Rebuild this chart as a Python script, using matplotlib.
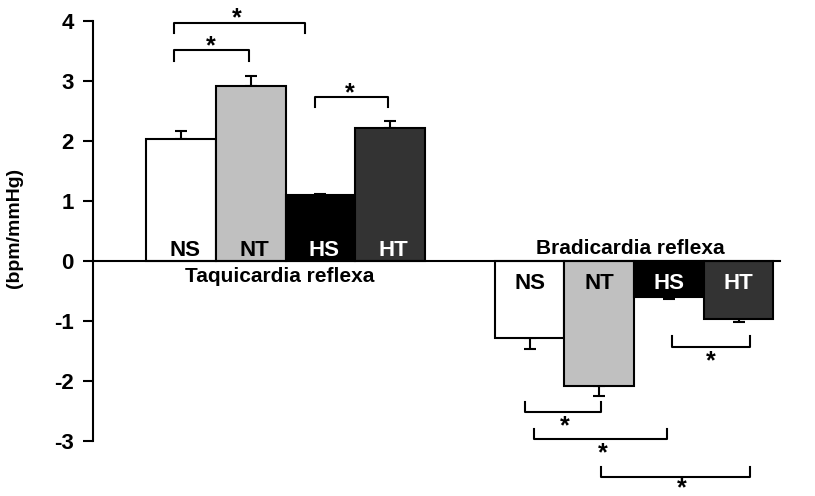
import matplotlib.pyplot as plt
import numpy as np

plt.rcParams['font.family'] = ['Liberation Sans', 'DejaVu Sans']
plt.rcParams['font.weight'] = 'bold'
plt.rcParams['axes.unicode_minus'] = False

conditions = ['NS', 'NT', 'HS', 'HT']
groups = ['Taquicardia reflexa', 'Bradicardia reflexa']
taqui = [2.04, 2.92, 1.10, 2.21]
taqui_err = [0.12, 0.16, 0.02, 0.13]
bradi = [-1.29, -2.09, -0.60, -0.97]
bradi_err = [0.18, 0.17, 0.03, 0.05]

# significance brackets: (x start, x end, y of bar, y of legs, star x, star y)
brackets = [
    (-0.10, 0.98, 3.52, 3.33, 0.42, 3.58),
    (-0.10, 1.78, 3.97, 3.80, 0.80, 4.05),
    (1.92, 2.97, 2.73, 2.57, 2.42, 2.80),
    (7.05, 8.16, -1.43, -1.25, 7.60, -1.68),
    (4.93, 6.03, -2.52, -2.35, 5.50, -2.76),
    (5.07, 6.97, -2.97, -2.80, 6.05, -3.21),
    (6.02, 8.16, -3.60, -3.43, 7.18, -3.80),
]

colors = ['white', '#c0c0c0', 'black', '#333333']
txt_colors = ['black', 'black', 'white', 'white']

fig = plt.figure(figsize=(8.15, 4.96), dpi=100)
ax = fig.add_axes([93/815, 0, 1 - 93/815, 1])

x1 = np.arange(4)
x2 = np.arange(4) + 5

ax.bar(x1, taqui, width=1.0, color=colors, edgecolor='black', linewidth=1.5, zorder=2)
ax.bar(x2, bradi, width=1.0, color=colors, edgecolor='black', linewidth=1.5, zorder=2)
ax.errorbar(x1, taqui, yerr=[np.zeros(4), taqui_err], fmt='none', ecolor='black',
            elinewidth=1.5, capsize=4.5, capthick=1.5, zorder=1)
ax.errorbar(x2, bradi, yerr=[bradi_err, np.zeros(4)], fmt='none', ecolor='black',
            elinewidth=1.5, capsize=4.5, capthick=1.5, zorder=1)

for i in range(4):
    ax.text(x1[i] + 0.05, 0.08, conditions[i], ha='center', va='baseline', fontsize=16,
            fontweight='bold', color=txt_colors[i], zorder=3)
    ax.text(x2[i], -0.47, conditions[i], ha='center', va='baseline', fontsize=16,
            fontweight='bold', color=txt_colors[i], zorder=3)

ax.text(1.42, -0.35, groups[0], ha='center', va='baseline', fontsize=15, fontweight='bold')
ax.text(6.44, 0.12, groups[1], ha='center', va='baseline', fontsize=15, fontweight='bold')

ax.plot([-1.3, 8.6], [0, 0], color='black', lw=1.5, zorder=3)

for xa, xb, yb, yl, sx, sy in brackets:
    ax.plot([xa, xa, xb, xb], [yl, yb, yb, yl], color='black', lw=1.5)
    ax.text(sx, sy, '*', ha='center', va='center', fontsize=18, fontweight='bold')

ax.set_xlim(-1.263, 9.096)
ax.set_ylim(-3.92, 4.35)
for s in ['top', 'right', 'bottom']:
    ax.spines[s].set_visible(False)
ax.spines['left'].set_bounds(-3, 4)
ax.spines['left'].set_linewidth(1.5)
ax.set_xticks([])
ax.set_yticks(range(-3, 5))
ax.tick_params(axis='y', direction='out', length=7, width=1.5, labelsize=16, pad=7)
for lab in ax.get_yticklabels():
    lab.set_fontweight('bold')
fig.text(15/815, 1 - 228/496, '(bpm/mmHg)', rotation=90, ha='center', va='center',
         fontsize=14, fontweight='bold')

fig.savefig('out.png', dpi=100)
